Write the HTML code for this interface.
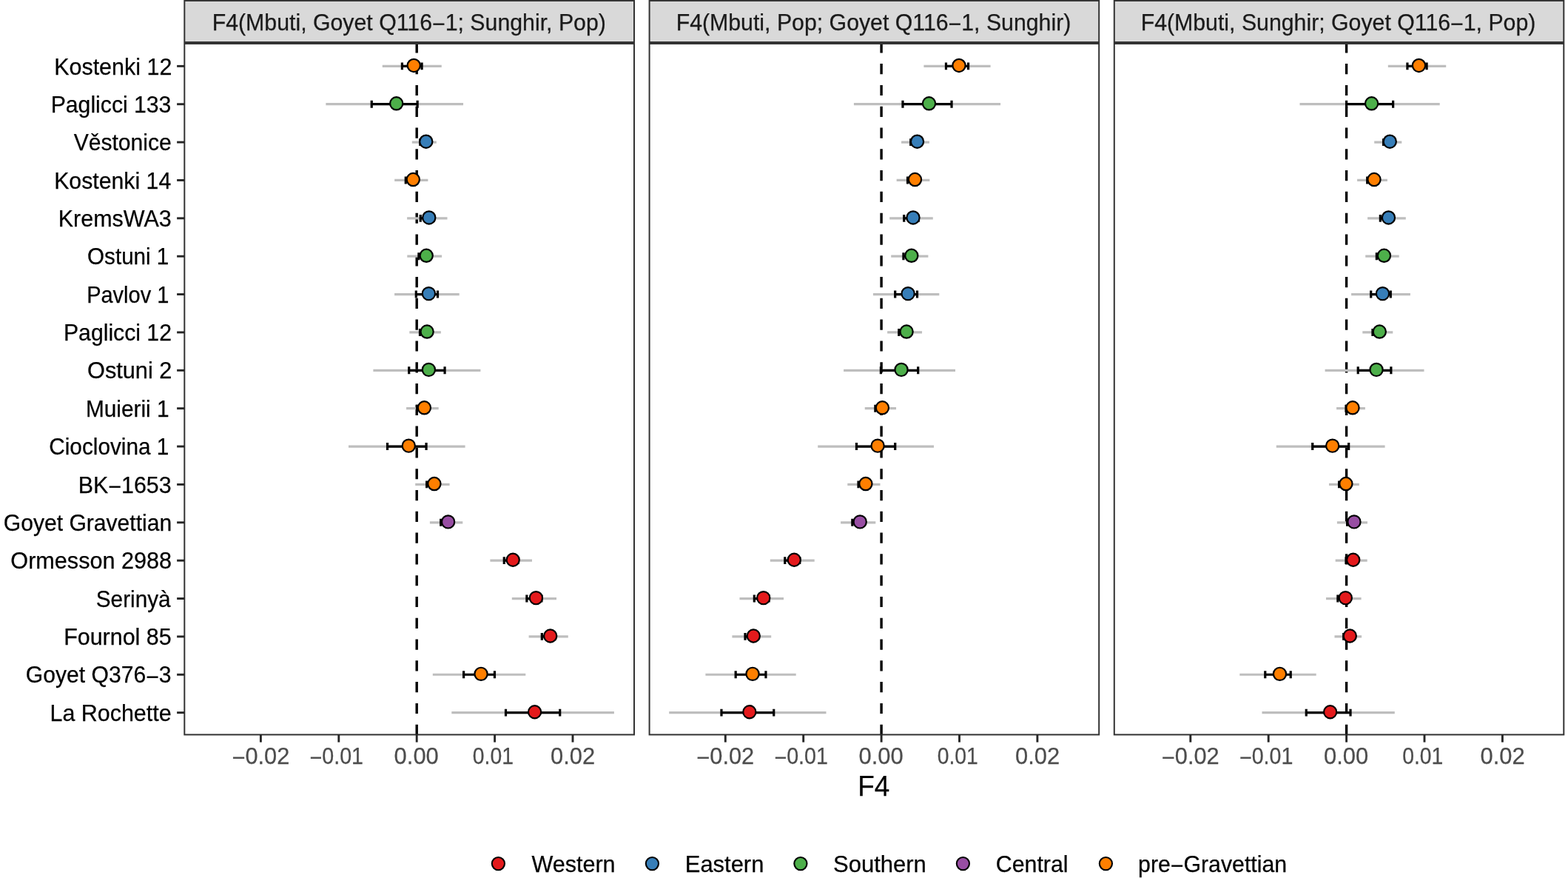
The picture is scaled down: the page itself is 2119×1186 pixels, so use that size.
<!DOCTYPE html><html><head><meta charset="utf-8"><title>F4 statistics</title><style>html,body{margin:0;padding:0;background:#fff;}svg{display:block;}text{font-family:"Liberation Sans",Arial,Helvetica,sans-serif;}</style></head><body>
<svg width="2119" height="1186" viewBox="0 0 2119 1186">
<rect x="0" y="0" width="2119" height="1186" fill="#fff"/>
<rect x="249.3" y="59" width="607.7" height="933.4" fill="#fff"/>
<clipPath id="c0"><rect x="249.3" y="59" width="607.7" height="933.4"/></clipPath>
<g clip-path="url(#c0)">
<line x1="563.2" y1="57.3" x2="563.2" y2="994.4" stroke="#000" stroke-width="3.4" stroke-dasharray="14.2 14.593"/>
<line x1="516.75" y1="89.35" x2="596.75" y2="89.35" stroke="#BEBEBE" stroke-width="3.2"/>
<line x1="440.35" y1="140.72" x2="626.05" y2="140.72" stroke="#BEBEBE" stroke-width="3.2"/>
<line x1="556.8" y1="192.09" x2="589.8" y2="192.09" stroke="#BEBEBE" stroke-width="3.2"/>
<line x1="533.2" y1="243.46" x2="578.4" y2="243.46" stroke="#BEBEBE" stroke-width="3.2"/>
<line x1="550.1" y1="294.83" x2="604.5" y2="294.83" stroke="#BEBEBE" stroke-width="3.2"/>
<line x1="550.3" y1="346.2" x2="597.1" y2="346.2" stroke="#BEBEBE" stroke-width="3.2"/>
<line x1="533.1" y1="397.57" x2="620.7" y2="397.57" stroke="#BEBEBE" stroke-width="3.2"/>
<line x1="553.3" y1="448.94" x2="595.9" y2="448.94" stroke="#BEBEBE" stroke-width="3.2"/>
<line x1="504.4" y1="500.31" x2="649.4" y2="500.31" stroke="#BEBEBE" stroke-width="3.2"/>
<line x1="549.1" y1="551.68" x2="592.7" y2="551.68" stroke="#BEBEBE" stroke-width="3.2"/>
<line x1="471" y1="603.05" x2="628.6" y2="603.05" stroke="#BEBEBE" stroke-width="3.2"/>
<line x1="561.2" y1="654.42" x2="607.6" y2="654.42" stroke="#BEBEBE" stroke-width="3.2"/>
<line x1="580.9" y1="705.79" x2="625.3" y2="705.79" stroke="#BEBEBE" stroke-width="3.2"/>
<line x1="662.4" y1="757.16" x2="719" y2="757.16" stroke="#BEBEBE" stroke-width="3.2"/>
<line x1="691.8" y1="808.53" x2="752" y2="808.53" stroke="#BEBEBE" stroke-width="3.2"/>
<line x1="714.6" y1="859.9" x2="767.8" y2="859.9" stroke="#BEBEBE" stroke-width="3.2"/>
<line x1="584.8" y1="911.27" x2="710.3" y2="911.27" stroke="#BEBEBE" stroke-width="3.2"/>
<line x1="610.3" y1="962.64" x2="829.9" y2="962.64" stroke="#BEBEBE" stroke-width="3.2"/>
<path d="M543.42 84.4V94.3M543.42 89.35H570.08M570.08 84.4V94.3" stroke="#000" stroke-width="3.2" fill="none"/>
<path d="M502.25 135.77V145.67M502.25 140.72H564.15M564.15 135.77V145.67" stroke="#000" stroke-width="3.2" fill="none"/>
<path d="M567.8 187.14V197.04M567.8 192.09H578.8M578.8 187.14V197.04" stroke="#000" stroke-width="3.2" fill="none"/>
<path d="M548.27 238.51V248.41M548.27 243.46H563.33M563.33 238.51V248.41" stroke="#000" stroke-width="3.2" fill="none"/>
<path d="M568.23 289.88V299.78M568.23 294.83H586.37M586.37 289.88V299.78" stroke="#000" stroke-width="3.2" fill="none"/>
<path d="M565.9 341.25V351.15M565.9 346.2H581.5M581.5 341.25V351.15" stroke="#000" stroke-width="3.2" fill="none"/>
<path d="M562.3 392.62V402.52M562.3 397.57H591.5M591.5 392.62V402.52" stroke="#000" stroke-width="3.2" fill="none"/>
<path d="M567.5 443.99V453.89M567.5 448.94H581.7M581.7 443.99V453.89" stroke="#000" stroke-width="3.2" fill="none"/>
<path d="M552.73 495.36V505.26M552.73 500.31H601.07M601.07 495.36V505.26" stroke="#000" stroke-width="3.2" fill="none"/>
<path d="M563.63 546.73V556.63M563.63 551.68H578.17M578.17 546.73V556.63" stroke="#000" stroke-width="3.2" fill="none"/>
<path d="M523.53 598.1V608M523.53 603.05H576.07M576.07 598.1V608" stroke="#000" stroke-width="3.2" fill="none"/>
<path d="M576.67 649.47V659.37M576.67 654.42H592.13M592.13 649.47V659.37" stroke="#000" stroke-width="3.2" fill="none"/>
<path d="M595.7 700.84V710.74M595.7 705.79H610.5M610.5 700.84V710.74" stroke="#000" stroke-width="3.2" fill="none"/>
<path d="M681.27 752.21V762.11M681.27 757.16H700.13M700.13 752.21V762.11" stroke="#000" stroke-width="3.2" fill="none"/>
<path d="M711.87 803.58V813.48M711.87 808.53H731.93M731.93 803.58V813.48" stroke="#000" stroke-width="3.2" fill="none"/>
<path d="M732.33 854.95V864.85M732.33 859.9H750.07M750.07 854.95V864.85" stroke="#000" stroke-width="3.2" fill="none"/>
<path d="M626.63 906.32V916.22M626.63 911.27H668.47M668.47 906.32V916.22" stroke="#000" stroke-width="3.2" fill="none"/>
<path d="M683.5 957.69V967.59M683.5 962.64H756.7M756.7 957.69V967.59" stroke="#000" stroke-width="3.2" fill="none"/>
<circle cx="559.25" cy="88.45" r="8.6" fill="#FF7F00" stroke="#000" stroke-width="2.2"/>
<circle cx="535.7" cy="139.82" r="8.6" fill="#4DAF4A" stroke="#000" stroke-width="2.2"/>
<circle cx="575.8" cy="191.19" r="8.6" fill="#377EB8" stroke="#000" stroke-width="2.2"/>
<circle cx="558.3" cy="242.56" r="8.6" fill="#FF7F00" stroke="#000" stroke-width="2.2"/>
<circle cx="579.8" cy="293.93" r="8.6" fill="#377EB8" stroke="#000" stroke-width="2.2"/>
<circle cx="576.2" cy="345.3" r="8.6" fill="#4DAF4A" stroke="#000" stroke-width="2.2"/>
<circle cx="579.4" cy="396.67" r="8.6" fill="#377EB8" stroke="#000" stroke-width="2.2"/>
<circle cx="577.1" cy="448.04" r="8.6" fill="#4DAF4A" stroke="#000" stroke-width="2.2"/>
<circle cx="579.4" cy="499.41" r="8.6" fill="#4DAF4A" stroke="#000" stroke-width="2.2"/>
<circle cx="573.4" cy="550.78" r="8.6" fill="#FF7F00" stroke="#000" stroke-width="2.2"/>
<circle cx="552.3" cy="602.15" r="8.6" fill="#FF7F00" stroke="#000" stroke-width="2.2"/>
<circle cx="586.9" cy="653.52" r="8.6" fill="#FF7F00" stroke="#000" stroke-width="2.2"/>
<circle cx="605.6" cy="704.89" r="8.6" fill="#984EA3" stroke="#000" stroke-width="2.2"/>
<circle cx="693.2" cy="756.26" r="8.6" fill="#E41A1C" stroke="#000" stroke-width="2.2"/>
<circle cx="724.4" cy="807.63" r="8.6" fill="#E41A1C" stroke="#000" stroke-width="2.2"/>
<circle cx="743.7" cy="859" r="8.6" fill="#E41A1C" stroke="#000" stroke-width="2.2"/>
<circle cx="650.05" cy="910.37" r="8.6" fill="#FF7F00" stroke="#000" stroke-width="2.2"/>
<circle cx="722.6" cy="961.74" r="8.6" fill="#E41A1C" stroke="#000" stroke-width="2.2"/>
</g>
<rect x="249.3" y="59" width="607.7" height="933.4" fill="none" stroke="#333333" stroke-width="2"/>
<rect x="249.3" y="0.95" width="607.7" height="56.05" fill="#D9D9D9" stroke="#333333" stroke-width="2"/>
<line x1="352.4" y1="992.4" x2="352.4" y2="1002.6" stroke="#262626" stroke-width="2.9"/>
<line x1="457.8" y1="992.4" x2="457.8" y2="1002.6" stroke="#262626" stroke-width="2.9"/>
<line x1="563.2" y1="992.4" x2="563.2" y2="1002.6" stroke="#262626" stroke-width="2.9"/>
<line x1="668.6" y1="992.4" x2="668.6" y2="1002.6" stroke="#262626" stroke-width="2.9"/>
<line x1="774" y1="992.4" x2="774" y2="1002.6" stroke="#262626" stroke-width="2.9"/>
<rect x="877.6" y="59" width="607.6" height="933.4" fill="#fff"/>
<clipPath id="c1"><rect x="877.6" y="59" width="607.6" height="933.4"/></clipPath>
<g clip-path="url(#c1)">
<line x1="1191.1" y1="57.3" x2="1191.1" y2="994.4" stroke="#000" stroke-width="3.4" stroke-dasharray="14.2 14.593"/>
<line x1="1248.4" y1="89.35" x2="1338.6" y2="89.35" stroke="#BEBEBE" stroke-width="3.2"/>
<line x1="1153.9" y1="140.72" x2="1352.1" y2="140.72" stroke="#BEBEBE" stroke-width="3.2"/>
<line x1="1218.05" y1="192.09" x2="1255.95" y2="192.09" stroke="#BEBEBE" stroke-width="3.2"/>
<line x1="1211.65" y1="243.46" x2="1256.35" y2="243.46" stroke="#BEBEBE" stroke-width="3.2"/>
<line x1="1202.2" y1="294.83" x2="1260.8" y2="294.83" stroke="#BEBEBE" stroke-width="3.2"/>
<line x1="1204.2" y1="346.2" x2="1254.4" y2="346.2" stroke="#BEBEBE" stroke-width="3.2"/>
<line x1="1179.9" y1="397.57" x2="1269.3" y2="397.57" stroke="#BEBEBE" stroke-width="3.2"/>
<line x1="1199.15" y1="448.94" x2="1246.05" y2="448.94" stroke="#BEBEBE" stroke-width="3.2"/>
<line x1="1140.1" y1="500.31" x2="1291" y2="500.31" stroke="#BEBEBE" stroke-width="3.2"/>
<line x1="1168.75" y1="551.68" x2="1211.05" y2="551.68" stroke="#BEBEBE" stroke-width="3.2"/>
<line x1="1105.2" y1="603.05" x2="1262" y2="603.05" stroke="#BEBEBE" stroke-width="3.2"/>
<line x1="1145.3" y1="654.42" x2="1189.5" y2="654.42" stroke="#BEBEBE" stroke-width="3.2"/>
<line x1="1136.1" y1="705.79" x2="1183.3" y2="705.79" stroke="#BEBEBE" stroke-width="3.2"/>
<line x1="1040.8" y1="757.16" x2="1100.7" y2="757.16" stroke="#BEBEBE" stroke-width="3.2"/>
<line x1="999.5" y1="808.53" x2="1059" y2="808.53" stroke="#BEBEBE" stroke-width="3.2"/>
<line x1="989.4" y1="859.9" x2="1042.2" y2="859.9" stroke="#BEBEBE" stroke-width="3.2"/>
<line x1="953.4" y1="911.27" x2="1075.7" y2="911.27" stroke="#BEBEBE" stroke-width="3.2"/>
<line x1="904.2" y1="962.64" x2="1116.5" y2="962.64" stroke="#BEBEBE" stroke-width="3.2"/>
<path d="M1278.47 84.4V94.3M1278.47 89.35H1308.53M1308.53 84.4V94.3" stroke="#000" stroke-width="3.2" fill="none"/>
<path d="M1219.97 135.77V145.67M1219.97 140.72H1286.03M1286.03 135.77V145.67" stroke="#000" stroke-width="3.2" fill="none"/>
<path d="M1230.68 187.14V197.04M1230.68 192.09H1243.32M1243.32 187.14V197.04" stroke="#000" stroke-width="3.2" fill="none"/>
<path d="M1226.55 238.51V248.41M1226.55 243.46H1241.45M1241.45 238.51V248.41" stroke="#000" stroke-width="3.2" fill="none"/>
<path d="M1221.73 289.88V299.78M1221.73 294.83H1241.27M1241.27 289.88V299.78" stroke="#000" stroke-width="3.2" fill="none"/>
<path d="M1220.93 341.25V351.15M1220.93 346.2H1237.67M1237.67 341.25V351.15" stroke="#000" stroke-width="3.2" fill="none"/>
<path d="M1209.7 392.62V402.52M1209.7 397.57H1239.5M1239.5 392.62V402.52" stroke="#000" stroke-width="3.2" fill="none"/>
<path d="M1214.78 443.99V453.89M1214.78 448.94H1230.42M1230.42 443.99V453.89" stroke="#000" stroke-width="3.2" fill="none"/>
<path d="M1190.4 495.36V505.26M1190.4 500.31H1240.7M1240.7 495.36V505.26" stroke="#000" stroke-width="3.2" fill="none"/>
<path d="M1182.85 546.73V556.63M1182.85 551.68H1196.95M1196.95 546.73V556.63" stroke="#000" stroke-width="3.2" fill="none"/>
<path d="M1157.47 598.1V608M1157.47 603.05H1209.73M1209.73 598.1V608" stroke="#000" stroke-width="3.2" fill="none"/>
<path d="M1160.03 649.47V659.37M1160.03 654.42H1174.77M1174.77 649.47V659.37" stroke="#000" stroke-width="3.2" fill="none"/>
<path d="M1151.83 700.84V710.74M1151.83 705.79H1167.57M1167.57 700.84V710.74" stroke="#000" stroke-width="3.2" fill="none"/>
<path d="M1060.77 752.21V762.11M1060.77 757.16H1080.73M1080.73 752.21V762.11" stroke="#000" stroke-width="3.2" fill="none"/>
<path d="M1019.33 803.58V813.48M1019.33 808.53H1039.17M1039.17 803.58V813.48" stroke="#000" stroke-width="3.2" fill="none"/>
<path d="M1007 854.95V864.85M1007 859.9H1024.6M1024.6 854.95V864.85" stroke="#000" stroke-width="3.2" fill="none"/>
<path d="M994.17 906.32V916.22M994.17 911.27H1034.93M1034.93 906.32V916.22" stroke="#000" stroke-width="3.2" fill="none"/>
<path d="M974.97 957.69V967.59M974.97 962.64H1045.73M1045.73 957.69V967.59" stroke="#000" stroke-width="3.2" fill="none"/>
<circle cx="1296" cy="88.45" r="8.6" fill="#FF7F00" stroke="#000" stroke-width="2.2"/>
<circle cx="1255.5" cy="139.82" r="8.6" fill="#4DAF4A" stroke="#000" stroke-width="2.2"/>
<circle cx="1239.5" cy="191.19" r="8.6" fill="#377EB8" stroke="#000" stroke-width="2.2"/>
<circle cx="1236.5" cy="242.56" r="8.6" fill="#FF7F00" stroke="#000" stroke-width="2.2"/>
<circle cx="1234" cy="293.93" r="8.6" fill="#377EB8" stroke="#000" stroke-width="2.2"/>
<circle cx="1231.8" cy="345.3" r="8.6" fill="#4DAF4A" stroke="#000" stroke-width="2.2"/>
<circle cx="1227.1" cy="396.67" r="8.6" fill="#377EB8" stroke="#000" stroke-width="2.2"/>
<circle cx="1225.1" cy="448.04" r="8.6" fill="#4DAF4A" stroke="#000" stroke-width="2.2"/>
<circle cx="1218.05" cy="499.41" r="8.6" fill="#4DAF4A" stroke="#000" stroke-width="2.2"/>
<circle cx="1192.4" cy="550.78" r="8.6" fill="#FF7F00" stroke="#000" stroke-width="2.2"/>
<circle cx="1186.1" cy="602.15" r="8.6" fill="#FF7F00" stroke="#000" stroke-width="2.2"/>
<circle cx="1169.9" cy="653.52" r="8.6" fill="#FF7F00" stroke="#000" stroke-width="2.2"/>
<circle cx="1162.2" cy="704.89" r="8.6" fill="#984EA3" stroke="#000" stroke-width="2.2"/>
<circle cx="1073.25" cy="756.26" r="8.6" fill="#E41A1C" stroke="#000" stroke-width="2.2"/>
<circle cx="1031.75" cy="807.63" r="8.6" fill="#E41A1C" stroke="#000" stroke-width="2.2"/>
<circle cx="1018.3" cy="859" r="8.6" fill="#E41A1C" stroke="#000" stroke-width="2.2"/>
<circle cx="1017.05" cy="910.37" r="8.6" fill="#FF7F00" stroke="#000" stroke-width="2.2"/>
<circle cx="1012.85" cy="961.74" r="8.6" fill="#E41A1C" stroke="#000" stroke-width="2.2"/>
</g>
<rect x="877.6" y="59" width="607.6" height="933.4" fill="none" stroke="#333333" stroke-width="2"/>
<rect x="877.6" y="0.95" width="607.6" height="56.05" fill="#D9D9D9" stroke="#333333" stroke-width="2"/>
<line x1="980.3" y1="992.4" x2="980.3" y2="1002.6" stroke="#262626" stroke-width="2.9"/>
<line x1="1085.7" y1="992.4" x2="1085.7" y2="1002.6" stroke="#262626" stroke-width="2.9"/>
<line x1="1191.1" y1="992.4" x2="1191.1" y2="1002.6" stroke="#262626" stroke-width="2.9"/>
<line x1="1296.5" y1="992.4" x2="1296.5" y2="1002.6" stroke="#262626" stroke-width="2.9"/>
<line x1="1401.9" y1="992.4" x2="1401.9" y2="1002.6" stroke="#262626" stroke-width="2.9"/>
<rect x="1505.8" y="59" width="607.5" height="933.4" fill="#fff"/>
<clipPath id="c2"><rect x="1505.8" y="59" width="607.5" height="933.4"/></clipPath>
<g clip-path="url(#c2)">
<line x1="1819.6" y1="57.3" x2="1819.6" y2="994.4" stroke="#000" stroke-width="3.4" stroke-dasharray="14.2 14.593"/>
<line x1="1875.8" y1="89.35" x2="1954.2" y2="89.35" stroke="#BEBEBE" stroke-width="3.2"/>
<line x1="1756.5" y1="140.72" x2="1945.7" y2="140.72" stroke="#BEBEBE" stroke-width="3.2"/>
<line x1="1857.2" y1="192.09" x2="1894.3" y2="192.09" stroke="#BEBEBE" stroke-width="3.2"/>
<line x1="1834.1" y1="243.46" x2="1874.9" y2="243.46" stroke="#BEBEBE" stroke-width="3.2"/>
<line x1="1848.1" y1="294.83" x2="1899.8" y2="294.83" stroke="#BEBEBE" stroke-width="3.2"/>
<line x1="1845.2" y1="346.2" x2="1890.7" y2="346.2" stroke="#BEBEBE" stroke-width="3.2"/>
<line x1="1826.1" y1="397.57" x2="1905.9" y2="397.57" stroke="#BEBEBE" stroke-width="3.2"/>
<line x1="1841.3" y1="448.94" x2="1882.3" y2="448.94" stroke="#BEBEBE" stroke-width="3.2"/>
<line x1="1790.6" y1="500.31" x2="1924.5" y2="500.31" stroke="#BEBEBE" stroke-width="3.2"/>
<line x1="1806.1" y1="551.68" x2="1844.9" y2="551.68" stroke="#BEBEBE" stroke-width="3.2"/>
<line x1="1724.8" y1="603.05" x2="1871.6" y2="603.05" stroke="#BEBEBE" stroke-width="3.2"/>
<line x1="1796" y1="654.42" x2="1836.8" y2="654.42" stroke="#BEBEBE" stroke-width="3.2"/>
<line x1="1806.9" y1="705.79" x2="1848" y2="705.79" stroke="#BEBEBE" stroke-width="3.2"/>
<line x1="1804.7" y1="757.16" x2="1847.7" y2="757.16" stroke="#BEBEBE" stroke-width="3.2"/>
<line x1="1792" y1="808.53" x2="1839.6" y2="808.53" stroke="#BEBEBE" stroke-width="3.2"/>
<line x1="1803.5" y1="859.9" x2="1840.1" y2="859.9" stroke="#BEBEBE" stroke-width="3.2"/>
<line x1="1675.3" y1="911.27" x2="1778.7" y2="911.27" stroke="#BEBEBE" stroke-width="3.2"/>
<line x1="1705.5" y1="962.64" x2="1884.8" y2="962.64" stroke="#BEBEBE" stroke-width="3.2"/>
<path d="M1901.93 84.4V94.3M1901.93 89.35H1928.07M1928.07 84.4V94.3" stroke="#000" stroke-width="3.2" fill="none"/>
<path d="M1819.57 135.77V145.67M1819.57 140.72H1882.63M1882.63 135.77V145.67" stroke="#000" stroke-width="3.2" fill="none"/>
<path d="M1869.57 187.14V197.04M1869.57 192.09H1881.93M1881.93 187.14V197.04" stroke="#000" stroke-width="3.2" fill="none"/>
<path d="M1847.7 238.51V248.41M1847.7 243.46H1861.3M1861.3 238.51V248.41" stroke="#000" stroke-width="3.2" fill="none"/>
<path d="M1865.33 289.88V299.78M1865.33 294.83H1882.57M1882.57 289.88V299.78" stroke="#000" stroke-width="3.2" fill="none"/>
<path d="M1860.37 341.25V351.15M1860.37 346.2H1875.53M1875.53 341.25V351.15" stroke="#000" stroke-width="3.2" fill="none"/>
<path d="M1852.7 392.62V402.52M1852.7 397.57H1879.3M1879.3 392.62V402.52" stroke="#000" stroke-width="3.2" fill="none"/>
<path d="M1854.97 443.99V453.89M1854.97 448.94H1868.63M1868.63 443.99V453.89" stroke="#000" stroke-width="3.2" fill="none"/>
<path d="M1835.23 495.36V505.26M1835.23 500.31H1879.87M1879.87 495.36V505.26" stroke="#000" stroke-width="3.2" fill="none"/>
<path d="M1819.03 546.73V556.63M1819.03 551.68H1831.97M1831.97 546.73V556.63" stroke="#000" stroke-width="3.2" fill="none"/>
<path d="M1773.73 598.1V608M1773.73 603.05H1822.67M1822.67 598.1V608" stroke="#000" stroke-width="3.2" fill="none"/>
<path d="M1809.6 649.47V659.37M1809.6 654.42H1823.2M1823.2 649.47V659.37" stroke="#000" stroke-width="3.2" fill="none"/>
<path d="M1820.6 700.84V710.74M1820.6 705.79H1834.3M1834.3 700.84V710.74" stroke="#000" stroke-width="3.2" fill="none"/>
<path d="M1819.03 752.21V762.11M1819.03 757.16H1833.37M1833.37 752.21V762.11" stroke="#000" stroke-width="3.2" fill="none"/>
<path d="M1807.87 803.58V813.48M1807.87 808.53H1823.73M1823.73 803.58V813.48" stroke="#000" stroke-width="3.2" fill="none"/>
<path d="M1815.7 854.95V864.85M1815.7 859.9H1827.9M1827.9 854.95V864.85" stroke="#000" stroke-width="3.2" fill="none"/>
<path d="M1709.77 906.32V916.22M1709.77 911.27H1744.23M1744.23 906.32V916.22" stroke="#000" stroke-width="3.2" fill="none"/>
<path d="M1765.27 957.69V967.59M1765.27 962.64H1825.03M1825.03 957.69V967.59" stroke="#000" stroke-width="3.2" fill="none"/>
<circle cx="1917.5" cy="88.45" r="8.6" fill="#FF7F00" stroke="#000" stroke-width="2.2"/>
<circle cx="1853.6" cy="139.82" r="8.6" fill="#4DAF4A" stroke="#000" stroke-width="2.2"/>
<circle cx="1878.25" cy="191.19" r="8.6" fill="#377EB8" stroke="#000" stroke-width="2.2"/>
<circle cx="1857" cy="242.56" r="8.6" fill="#FF7F00" stroke="#000" stroke-width="2.2"/>
<circle cx="1876.45" cy="293.93" r="8.6" fill="#377EB8" stroke="#000" stroke-width="2.2"/>
<circle cx="1870.45" cy="345.3" r="8.6" fill="#4DAF4A" stroke="#000" stroke-width="2.2"/>
<circle cx="1868.5" cy="396.67" r="8.6" fill="#377EB8" stroke="#000" stroke-width="2.2"/>
<circle cx="1864.3" cy="448.04" r="8.6" fill="#4DAF4A" stroke="#000" stroke-width="2.2"/>
<circle cx="1860.05" cy="499.41" r="8.6" fill="#4DAF4A" stroke="#000" stroke-width="2.2"/>
<circle cx="1828" cy="550.78" r="8.6" fill="#FF7F00" stroke="#000" stroke-width="2.2"/>
<circle cx="1800.7" cy="602.15" r="8.6" fill="#FF7F00" stroke="#000" stroke-width="2.2"/>
<circle cx="1818.9" cy="653.52" r="8.6" fill="#FF7F00" stroke="#000" stroke-width="2.2"/>
<circle cx="1829.95" cy="704.89" r="8.6" fill="#984EA3" stroke="#000" stroke-width="2.2"/>
<circle cx="1828.7" cy="756.26" r="8.6" fill="#E41A1C" stroke="#000" stroke-width="2.2"/>
<circle cx="1818.3" cy="807.63" r="8.6" fill="#E41A1C" stroke="#000" stroke-width="2.2"/>
<circle cx="1824.3" cy="859" r="8.6" fill="#E41A1C" stroke="#000" stroke-width="2.2"/>
<circle cx="1729.5" cy="910.37" r="8.6" fill="#FF7F00" stroke="#000" stroke-width="2.2"/>
<circle cx="1797.65" cy="961.74" r="8.6" fill="#E41A1C" stroke="#000" stroke-width="2.2"/>
</g>
<rect x="1505.8" y="59" width="607.5" height="933.4" fill="none" stroke="#333333" stroke-width="2"/>
<rect x="1505.8" y="0.95" width="607.5" height="56.05" fill="#D9D9D9" stroke="#333333" stroke-width="2"/>
<line x1="1608.8" y1="992.4" x2="1608.8" y2="1002.6" stroke="#262626" stroke-width="2.9"/>
<line x1="1714.2" y1="992.4" x2="1714.2" y2="1002.6" stroke="#262626" stroke-width="2.9"/>
<line x1="1819.6" y1="992.4" x2="1819.6" y2="1002.6" stroke="#262626" stroke-width="2.9"/>
<line x1="1925" y1="992.4" x2="1925" y2="1002.6" stroke="#262626" stroke-width="2.9"/>
<line x1="2030.4" y1="992.4" x2="2030.4" y2="1002.6" stroke="#262626" stroke-width="2.9"/>
<line x1="239.1" y1="89.35" x2="249.3" y2="89.35" stroke="#262626" stroke-width="2.9"/>
<line x1="239.1" y1="140.72" x2="249.3" y2="140.72" stroke="#262626" stroke-width="2.9"/>
<line x1="239.1" y1="192.09" x2="249.3" y2="192.09" stroke="#262626" stroke-width="2.9"/>
<line x1="239.1" y1="243.46" x2="249.3" y2="243.46" stroke="#262626" stroke-width="2.9"/>
<line x1="239.1" y1="294.83" x2="249.3" y2="294.83" stroke="#262626" stroke-width="2.9"/>
<line x1="239.1" y1="346.2" x2="249.3" y2="346.2" stroke="#262626" stroke-width="2.9"/>
<line x1="239.1" y1="397.57" x2="249.3" y2="397.57" stroke="#262626" stroke-width="2.9"/>
<line x1="239.1" y1="448.94" x2="249.3" y2="448.94" stroke="#262626" stroke-width="2.9"/>
<line x1="239.1" y1="500.31" x2="249.3" y2="500.31" stroke="#262626" stroke-width="2.9"/>
<line x1="239.1" y1="551.68" x2="249.3" y2="551.68" stroke="#262626" stroke-width="2.9"/>
<line x1="239.1" y1="603.05" x2="249.3" y2="603.05" stroke="#262626" stroke-width="2.9"/>
<line x1="239.1" y1="654.42" x2="249.3" y2="654.42" stroke="#262626" stroke-width="2.9"/>
<line x1="239.1" y1="705.79" x2="249.3" y2="705.79" stroke="#262626" stroke-width="2.9"/>
<line x1="239.1" y1="757.16" x2="249.3" y2="757.16" stroke="#262626" stroke-width="2.9"/>
<line x1="239.1" y1="808.53" x2="249.3" y2="808.53" stroke="#262626" stroke-width="2.9"/>
<line x1="239.1" y1="859.9" x2="249.3" y2="859.9" stroke="#262626" stroke-width="2.9"/>
<line x1="239.1" y1="911.27" x2="249.3" y2="911.27" stroke="#262626" stroke-width="2.9"/>
<line x1="239.1" y1="962.64" x2="249.3" y2="962.64" stroke="#262626" stroke-width="2.9"/>
<circle cx="673.4" cy="1166.6" r="8.6" fill="#E41A1C" stroke="#000" stroke-width="2.1"/>
<circle cx="881.4" cy="1166.6" r="8.6" fill="#377EB8" stroke="#000" stroke-width="2.1"/>
<circle cx="1081.9" cy="1166.6" r="8.6" fill="#4DAF4A" stroke="#000" stroke-width="2.1"/>
<circle cx="1301.4" cy="1166.6" r="8.6" fill="#984EA3" stroke="#000" stroke-width="2.1"/>
<circle cx="1494.4" cy="1166.6" r="8.6" fill="#FF7F00" stroke="#000" stroke-width="2.1"/>
<text x="73.18" y="100.5" font-size="31.5" textLength="159.17" lengthAdjust="spacingAndGlyphs" fill="#000" stroke="#000" stroke-width="0.25">Kostenki 12</text>
<text x="68.71" y="151.87" font-size="31.5" textLength="162.7" lengthAdjust="spacingAndGlyphs" fill="#000" stroke="#000" stroke-width="0.25">Paglicci 133</text>
<text x="99.7" y="203.24" font-size="31.5" textLength="131.98" lengthAdjust="spacingAndGlyphs" fill="#000" stroke="#000" stroke-width="0.25">Věstonice</text>
<text x="73.2" y="254.61" font-size="31.5" textLength="158.03" lengthAdjust="spacingAndGlyphs" fill="#000" stroke="#000" stroke-width="0.25">Kostenki 14</text>
<text x="78.78" y="305.98" font-size="31.5" textLength="152.93" lengthAdjust="spacingAndGlyphs" fill="#000" stroke="#000" stroke-width="0.25">KremsWA3</text>
<text x="118.09" y="357.35" font-size="31.5" textLength="110.24" lengthAdjust="spacingAndGlyphs" fill="#000" stroke="#000" stroke-width="0.25">Ostuni 1</text>
<text x="117.2" y="408.72" font-size="31.5" textLength="111.12" lengthAdjust="spacingAndGlyphs" fill="#000" stroke="#000" stroke-width="0.25">Pavlov 1</text>
<text x="86.01" y="460.09" font-size="31.5" textLength="145.92" lengthAdjust="spacingAndGlyphs" fill="#000" stroke="#000" stroke-width="0.25">Paglicci 12</text>
<text x="118.04" y="511.46" font-size="31.5" textLength="114.28" lengthAdjust="spacingAndGlyphs" fill="#000" stroke="#000" stroke-width="0.25">Ostuni 2</text>
<text x="115.93" y="562.83" font-size="31.5" textLength="112.63" lengthAdjust="spacingAndGlyphs" fill="#000" stroke="#000" stroke-width="0.25">Muierii 1</text>
<text x="66.28" y="614.2" font-size="31.5" textLength="162.09" lengthAdjust="spacingAndGlyphs" fill="#000" stroke="#000" stroke-width="0.25">Cioclovina 1</text>
<text x="105.79" y="665.57" font-size="31.5" textLength="125.82" lengthAdjust="spacingAndGlyphs" fill="#000" stroke="#000" stroke-width="0.25">BK<tspan dy="2.3">−</tspan><tspan dy="-2.3">1653</tspan></text>
<text x="4.87" y="716.94" font-size="31.5" textLength="227.26" lengthAdjust="spacingAndGlyphs" fill="#000" stroke="#000" stroke-width="0.25">Goyet Gravettian</text>
<text x="14.34" y="768.31" font-size="31.5" textLength="217.79" lengthAdjust="spacingAndGlyphs" fill="#000" stroke="#000" stroke-width="0.25">Ormesson 2988</text>
<text x="129.78" y="819.68" font-size="31.5" textLength="100.84" lengthAdjust="spacingAndGlyphs" fill="#000" stroke="#000" stroke-width="0.25">Serinyà</text>
<text x="86.19" y="871.05" font-size="31.5" textLength="145.43" lengthAdjust="spacingAndGlyphs" fill="#000" stroke="#000" stroke-width="0.25">Fournol 85</text>
<text x="34.87" y="922.42" font-size="31.5" textLength="196.64" lengthAdjust="spacingAndGlyphs" fill="#000" stroke="#000" stroke-width="0.25">Goyet Q376<tspan dy="2.3">−</tspan><tspan dy="-2.3">3</tspan></text>
<text x="67.59" y="973.79" font-size="31.5" textLength="164.04" lengthAdjust="spacingAndGlyphs" fill="#000" stroke="#000" stroke-width="0.25">La Rochette</text>
<text x="286.66" y="40.7" font-size="31.5" textLength="532.22" lengthAdjust="spacingAndGlyphs" fill="#1A1A1A" stroke="#1A1A1A" stroke-width="0.25">F4(Mbuti, Goyet Q116<tspan dy="2.3">−</tspan><tspan dy="-2.3">1; Sunghir, Pop)</tspan></text>
<text x="913.65" y="40.7" font-size="31.5" textLength="533.71" lengthAdjust="spacingAndGlyphs" fill="#1A1A1A" stroke="#1A1A1A" stroke-width="0.25">F4(Mbuti, Pop; Goyet Q116<tspan dy="2.3">−</tspan><tspan dy="-2.3">1, Sunghir)</tspan></text>
<text x="1541.67" y="40.7" font-size="31.5" textLength="533.69" lengthAdjust="spacingAndGlyphs" fill="#1A1A1A" stroke="#1A1A1A" stroke-width="0.25">F4(Mbuti, Sunghir; Goyet Q116<tspan dy="2.3">−</tspan><tspan dy="-2.3">1, Pop)</tspan></text>
<text x="313.43" y="1031.7" font-size="31.5" textLength="77.9" lengthAdjust="spacingAndGlyphs" fill="#4D4D4D" stroke="#4D4D4D" stroke-width="0.25"><tspan dy="2.3">−</tspan><tspan dy="-2.3">0.02</tspan></text>
<text x="418.53" y="1031.7" font-size="31.5" textLength="72.55" lengthAdjust="spacingAndGlyphs" fill="#4D4D4D" stroke="#4D4D4D" stroke-width="0.25"><tspan dy="2.3">−</tspan><tspan dy="-2.3">0.01</tspan></text>
<text x="532.57" y="1031.7" font-size="31.5" textLength="60.27" lengthAdjust="spacingAndGlyphs" fill="#4D4D4D" stroke="#4D4D4D" stroke-width="0.25">0.00</text>
<text x="638.77" y="1031.7" font-size="31.5" textLength="55.21" lengthAdjust="spacingAndGlyphs" fill="#4D4D4D" stroke="#4D4D4D" stroke-width="0.25">0.01</text>
<text x="744.07" y="1031.7" font-size="31.5" textLength="60.16" lengthAdjust="spacingAndGlyphs" fill="#4D4D4D" stroke="#4D4D4D" stroke-width="0.25">0.02</text>
<text x="941.33" y="1031.7" font-size="31.5" textLength="77.9" lengthAdjust="spacingAndGlyphs" fill="#4D4D4D" stroke="#4D4D4D" stroke-width="0.25"><tspan dy="2.3">−</tspan><tspan dy="-2.3">0.02</tspan></text>
<text x="1046.43" y="1031.7" font-size="31.5" textLength="72.55" lengthAdjust="spacingAndGlyphs" fill="#4D4D4D" stroke="#4D4D4D" stroke-width="0.25"><tspan dy="2.3">−</tspan><tspan dy="-2.3">0.01</tspan></text>
<text x="1160.47" y="1031.7" font-size="31.5" textLength="60.27" lengthAdjust="spacingAndGlyphs" fill="#4D4D4D" stroke="#4D4D4D" stroke-width="0.25">0.00</text>
<text x="1266.67" y="1031.7" font-size="31.5" textLength="55.21" lengthAdjust="spacingAndGlyphs" fill="#4D4D4D" stroke="#4D4D4D" stroke-width="0.25">0.01</text>
<text x="1371.97" y="1031.7" font-size="31.5" textLength="60.16" lengthAdjust="spacingAndGlyphs" fill="#4D4D4D" stroke="#4D4D4D" stroke-width="0.25">0.02</text>
<text x="1569.83" y="1031.7" font-size="31.5" textLength="77.9" lengthAdjust="spacingAndGlyphs" fill="#4D4D4D" stroke="#4D4D4D" stroke-width="0.25"><tspan dy="2.3">−</tspan><tspan dy="-2.3">0.02</tspan></text>
<text x="1674.93" y="1031.7" font-size="31.5" textLength="72.55" lengthAdjust="spacingAndGlyphs" fill="#4D4D4D" stroke="#4D4D4D" stroke-width="0.25"><tspan dy="2.3">−</tspan><tspan dy="-2.3">0.01</tspan></text>
<text x="1788.97" y="1031.7" font-size="31.5" textLength="60.27" lengthAdjust="spacingAndGlyphs" fill="#4D4D4D" stroke="#4D4D4D" stroke-width="0.25">0.00</text>
<text x="1895.17" y="1031.7" font-size="31.5" textLength="55.21" lengthAdjust="spacingAndGlyphs" fill="#4D4D4D" stroke="#4D4D4D" stroke-width="0.25">0.01</text>
<text x="2000.47" y="1031.7" font-size="31.5" textLength="60.16" lengthAdjust="spacingAndGlyphs" fill="#4D4D4D" stroke="#4D4D4D" stroke-width="0.25">0.02</text>
<text x="1159.17" y="1074.8" font-size="39.0" textLength="42.99" lengthAdjust="spacingAndGlyphs" fill="#000" stroke="#000" stroke-width="0.25">F4</text>
<text x="718.4" y="1178" font-size="31.5" textLength="113.21" lengthAdjust="spacingAndGlyphs" fill="#000" stroke="#000" stroke-width="0.25">Western</text>
<text x="925.75" y="1178" font-size="31.5" textLength="106.58" lengthAdjust="spacingAndGlyphs" fill="#000" stroke="#000" stroke-width="0.25">Eastern</text>
<text x="1126.02" y="1178" font-size="31.5" textLength="125.85" lengthAdjust="spacingAndGlyphs" fill="#000" stroke="#000" stroke-width="0.25">Southern</text>
<text x="1345.76" y="1178" font-size="31.5" textLength="97.82" lengthAdjust="spacingAndGlyphs" fill="#000" stroke="#000" stroke-width="0.25">Central</text>
<text x="1538.08" y="1178" font-size="31.5" textLength="201.04" lengthAdjust="spacingAndGlyphs" fill="#000" stroke="#000" stroke-width="0.25">pre<tspan dy="2.3">−</tspan><tspan dy="-2.3">Gravettian</tspan></text>
</svg></body></html>
